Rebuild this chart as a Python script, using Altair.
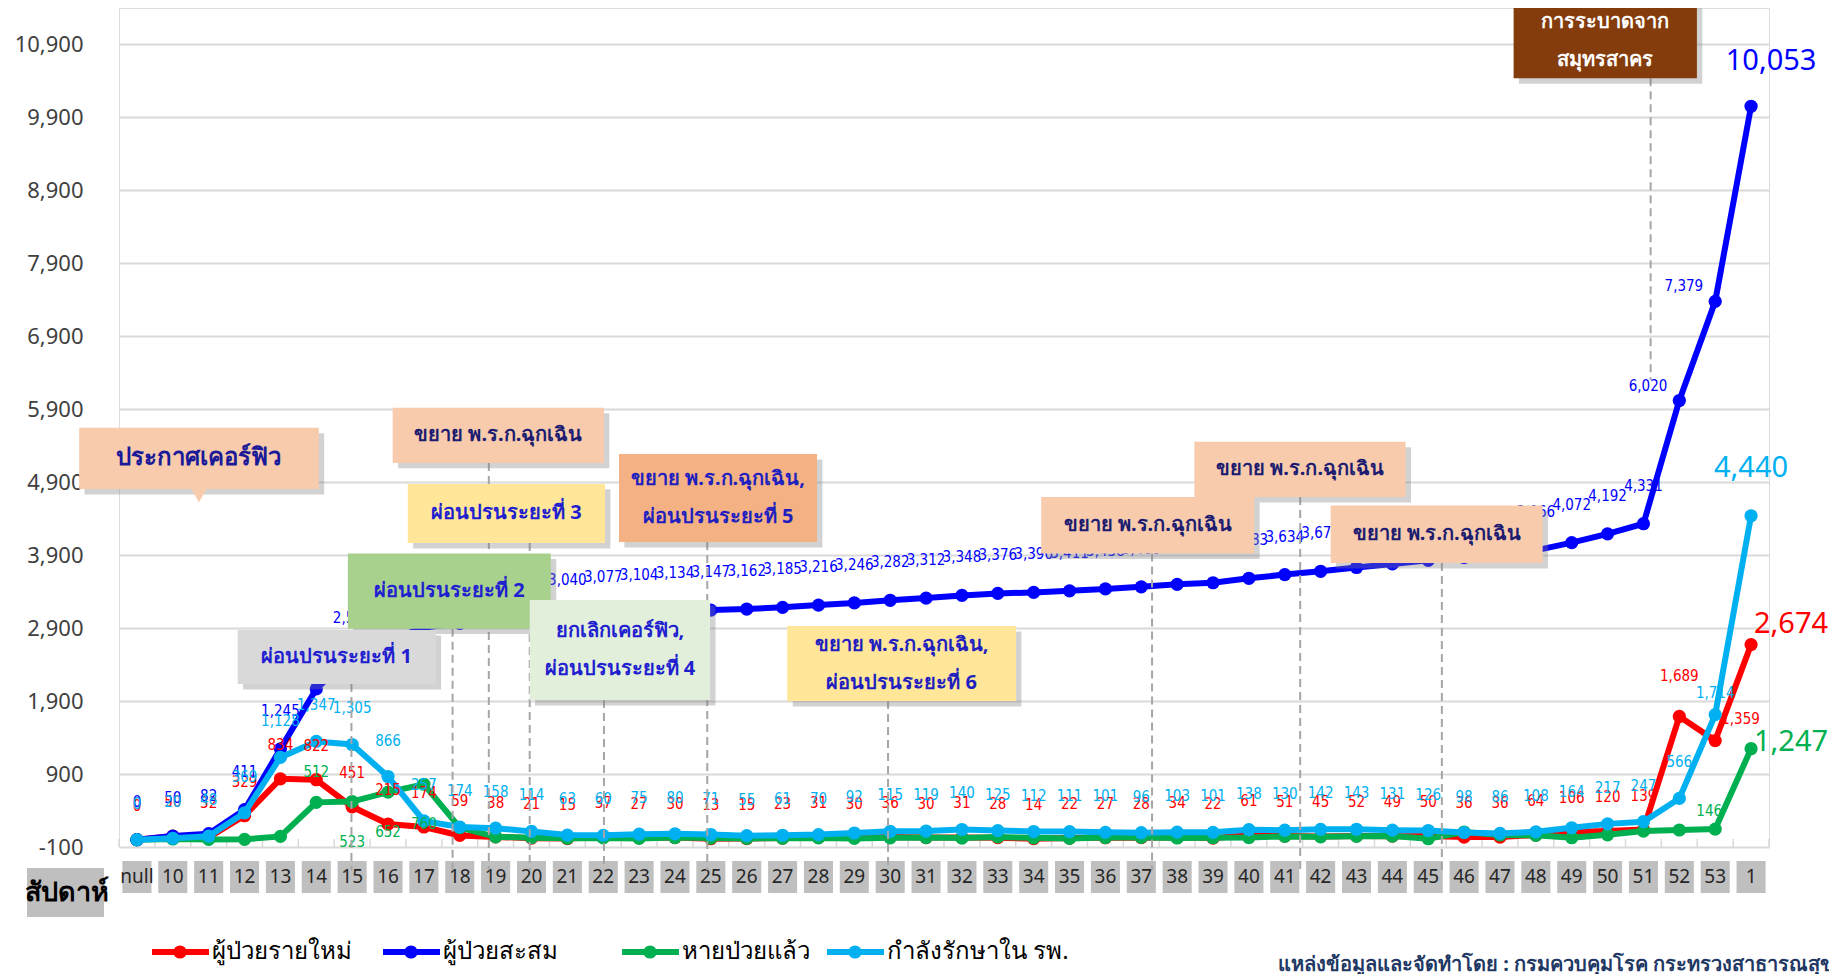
import altair as alt
import pandas as pd

# ---------------- data ----------------
weeks = ["null", "10", "11", "12", "13", "14", "15", "16", "17", "18", "19", "20",
         "21", "22", "23", "24", "25", "26", "27", "28", "29", "30", "31", "32",
         "33", "34", "35", "36", "37", "38", "39", "40", "41", "42", "43", "44",
         "45", "46", "47", "48", "49", "50", "51", "52", "53", "1"]

new_cases = [0, 50, 32, 329, 834, 822, 451, 215, 174, 59, 38, 21, 15, 37, 27, 30,
             13, 15, 23, 31, 30, 36, 30, 31, 28, 14, 22, 27, 28, 34, 22, 61, 51, 45,
             52, 49, 50, 36, 36, 64, 106, 120, 139, 1689, 1359, 2674]

cumulative = [0, 50, 82, 411, 1245, 2067, 2518, 2733, 2907, 2966, 3004, 3025, 3040,
              3077, 3104, 3134, 3147, 3162, 3185, 3216, 3246, 3282, 3312, 3348, 3376,
              3390, 3411, 3438, 3466, 3500, 3522, 3583, 3634, 3679, 3731, 3780, 3830,
              3866, 3902, 3966, 4072, 4192, 4331, 6020, 7379, 10053]

recovered = [0, 10, 4, 5, 45, 512, 523, 652, 760, 165, 40, 28, 20, 25, 18, 30, 22,
             18, 20, 25, 18, 26, 30, 23, 38, 26, 18, 30, 31, 24, 27, 30, 45, 39, 47,
             50, 13, 105, 65, 60, 27, 67, 119, 133, 146, 1247]

in_hospital = [0, 20, 48, 369, 1128, 1347, 1305, 866, 257, 174, 158, 114, 63, 60, 75,
               80, 71, 55, 61, 70, 92, 115, 119, 140, 125, 112, 111, 101, 96, 103, 101,
               138, 130, 142, 143, 131, 126, 98, 86, 108, 164, 217, 247, 566, 1714, 4440]

series_keys = ["new", "cum", "rec", "hosp"]
series_names = ["ผู้ป่วยรายใหม่", "ผู้ป่วยสะสม", "หายป่วยแล้ว", "กำลังรักษาใน รพ."]
series_colors = ["#ff0000", "#0000ff", "#00b050", "#00b0f0"]
series_values = [new_cases, cumulative, recovered, in_hospital]

y_ticks = [-100, 900, 1900, 2900, 3900, 4900, 5900, 6900, 7900, 8900, 9900, 10900]

rows = []
for key, vals in zip(series_keys, series_values):
    for i, (w, v) in enumerate(zip(weeks, vals)):
        rows.append({"idx": i, "week": w, "series": key, "value": v})
df = pd.DataFrame(rows)
wk = pd.DataFrame({"idx": list(range(len(weeks))), "week": weeks})

# annotation boxes (x in week-index units, y in case units)
annotations = [
    dict(x1=-1.61, x2=5.07, y1=4808, y2=5645, fill="#f8cbad", tc="#1a1a99", fs=24, lines=["ประกาศเคอร์ฟิว"]),
    dict(x1=7.13, x2=13.02, y1=5165, y2=5919, fill="#f8cbad", tc="#1c1c70", fs=20, lines=["ขยาย พ.ร.ก.ฉุกเฉิน"]),
    dict(x1=7.55, x2=13.05, y1=4067, y2=4877, fill="#ffe699", tc="#1f1fd0", fs=20, lines=["ผ่อนปรนระยะที่ 3"]),
    dict(x1=13.44, x2=18.96, y1=4081, y2=5288, fill="#f4b183", tc="#1f1fc0", fs=20, lines=["ขยาย พ.ร.ก.ฉุกเฉิน,", "ผ่อนปรนระยะที่ 5"]),
    dict(x1=5.88, x2=11.54, y1=2893, y2=3922, fill="#a9d18e", tc="#1f1fd0", fs=20, lines=["ผ่อนปรนระยะที่ 2"]),
    dict(x1=2.81, x2=8.33, y1=2133, y2=2874, fill="#d9d9d9", tc="#1f1fd0", fs=20, lines=["ผ่อนปรนระยะที่ 1"]),
    dict(x1=10.95, x2=15.98, y1=1914, y2=3285, fill="#e2efda", tc="#1f1fd0", fs=20, lines=["ยกเลิกเคอร์ฟิว,", "ผ่อนปรนระยะที่ 4"]),
    dict(x1=18.13, x2=24.51, y1=1900, y2=2929, fill="#ffe699", tc="#1f1fc0", fs=20, lines=["ขยาย พ.ร.ก.ฉุกเฉิน,", "ผ่อนปรนระยะที่ 6"]),
    dict(x1=25.21, x2=31.15, y1=3922, y2=4698, fill="#f8cbad", tc="#1c1c70", fs=20, lines=["ขยาย พ.ร.ก.ฉุกเฉิน"]),
    dict(x1=29.48, x2=35.37, y1=4698, y2=5453, fill="#f8cbad", tc="#1c1c70", fs=20, lines=["ขยาย พ.ร.ก.ฉุกเฉิน"]),
    dict(x1=33.28, x2=39.19, y1=3793, y2=4582, fill="#f8cbad", tc="#1c1c70", fs=20, lines=["ขยาย พ.ร.ก.ฉุกเฉิน"]),
    dict(x1=38.38, x2=43.49, y1=10437, y2=11470, fill="#843c0c", tc="#ffffff", fs=20, lines=["การระบาดจาก", "สมุทรสาคร"]),
]
ann = pd.DataFrame(annotations)
ann["nl"] = ann["lines"].apply(len)
ann["xc"] = (ann.x1 + ann.x2) / 2
ann["yc"] = (ann.y1 + ann.y2) / 2
ann["sx1"] = ann.x1 + 0.15
ann["sx2"] = ann.x2 + 0.15
ann["sy1"] = ann.y1 - 75
ann["sy2"] = ann.y2 - 75

dashes = pd.DataFrame({
    "x": [5.98, 8.8, 9.81, 10.95, 13.02, 15.9, 20.94, 28.3, 32.43, 36.38, 42.2],
    "top": [2133, 2893, 5165, 4067, 1914, 4081, 1900, 3922, 4698, 3793, 10437],
    "bottom": [-420, -420, -420, -420, -420, -420, -420, -420, -420, -420, 6300],
})

# ---------------- chart ----------------
W, H = 1650, 839
FONT = "Noto Sans"
LFONT = "DejaVu Sans Condensed, Noto Sans, sans-serif"
xscale = alt.Scale(domain=[-0.5, 45.5], nice=False, zero=False)
yscale = alt.Scale(domain=[-100, 11400], nice=False, zero=False)
yaxis = alt.Axis(values=y_ticks, format=",d", grid=True, gridColor="#d9d9d9", gridWidth=2,
                 domain=False, ticks=False, labelFontSize=22, labelColor="#404040",
                 labelPadding=36, title=None, labelFont=FONT,
                 labelExpr="replace(datum.label, '\u2212', '-')")


def X(f):
    return alt.X(f, type="quantitative", scale=xscale, axis=None)


def Y(f):
    return alt.Y(f, type="quantitative", scale=yscale, axis=yaxis)


layers = []
base = alt.Chart(df)
color_of = dict(zip(series_keys, series_colors))

# boundary ticks on the x axis
bnd = pd.DataFrame({"b": [i - 0.5 for i in range(len(weeks) + 1)]})
layers.append(alt.Chart(bnd).mark_rule(color="#d9d9d9", strokeWidth=1.5).encode(
    x=X("b"), y=alt.value(H), y2=alt.value(H - 8)))

# lines and points (draw order: red, green, blue, cyan)
for key in ["new", "rec", "cum", "hosp"]:
    c = color_of[key]
    sub = base.transform_filter(f"datum.series == '{key}'")
    layers.append(sub.mark_line(color=c, strokeWidth=6).encode(x=X("idx"), y=Y("value")))
    layers.append(sub.mark_circle(color=c, size=175, opacity=1).encode(x=X("idx"), y=Y("value")))


def lab(key, filt, size=15, font=LFONT, **kw):
    return base.transform_filter(f"datum.series == '{key}' && ({filt})").mark_text(
        color=color_of[key], font=font, fontSize=size, baseline="middle", **kw
    ).encode(x=X("idx"), y=Y("value"), text=alt.Text("value:Q", format=",d"))


label_layers = [
    lab("new", "datum.idx <= 42", dy=-34),
    lab("new", "datum.idx == 43", dy=-40),
    lab("new", "datum.idx == 44", align="left", dx=6, dy=-22),
    lab("cum", "datum.idx <= 42", dy=-38),
    lab("cum", "datum.idx == 43 || datum.idx == 44", align="right", dx=-12, dy=-15),
    lab("rec", "datum.idx <= 43 && datum.idx != 5", dy=40),
    lab("rec", "datum.idx == 5", dy=-30),
    lab("rec", "datum.idx == 44", dx=-6, dy=-18),
    lab("hosp", "datum.idx <= 43", dy=-36),
    lab("hosp", "datum.idx == 44", dy=-22),
    lab("new", "datum.idx == 45", size=29, font=FONT, dx=40, dy=-21),
    lab("cum", "datum.idx == 45", size=29, font=FONT, dx=20, dy=-45),
    lab("rec", "datum.idx == 45", size=29, font=FONT, dx=40, dy=-7),
    lab("hosp", "datum.idx == 45", size=29, font=FONT, dx=0, dy=-48),
]
layers += label_layers

# x-axis category boxes and labels
wkc = alt.Chart(wk).transform_calculate(lo="datum.idx - 0.405", hi="datum.idx + 0.405")
layers.append(wkc.mark_rect(color="#bfbfbf").encode(
    x=X("lo"), x2="hi:Q", y=alt.value(H + 14), y2=alt.value(H + 46)))
layers.append(alt.Chart(wk).mark_text(fontSize=19, color="#262626", font=FONT, baseline="middle").encode(
    x=X("idx"), y=alt.value(H + 30), text="week:N"))

# axis title box
layers.append(alt.Chart(pd.DataFrame({"t": ["สัปดาห์"]})).mark_rect(color="#bfbfbf").encode(
    x=alt.value(-92), x2=alt.value(-15), y=alt.value(H + 21), y2=alt.value(H + 70)))
layers.append(alt.Chart(pd.DataFrame({"t": ["สัปดาห์"]})).mark_text(
    fontSize=27, fontWeight="bold", color="#000000", font=FONT, baseline="middle").encode(
    x=alt.value(-52), y=alt.value(H + 46), text="t:N"))

# dashed guide lines
layers.append(alt.Chart(dashes).mark_rule(color="#a6a6a6", strokeWidth=2, strokeDash=[8, 5]).encode(
    x=X("x"), y=Y("top"), y2="bottom:Q"))

# annotation boxes: shadow, box, pointer, text
layers.append(alt.Chart(ann).mark_rect(color="#7f7f7f", opacity=0.35).encode(
    x=X("sx1"), x2="sx2:Q", y=Y("sy1"), y2="sy2:Q"))
layers.append(alt.Chart(ann).mark_rect().encode(
    x=X("x1"), x2="x2:Q", y=Y("y1"), y2="y2:Q", color=alt.Color("fill:N", scale=None)))
ptr = pd.DataFrame({"x": [1.73], "y": [4720]})
layers.append(alt.Chart(ptr).mark_point(shape="triangle-down", filled=True, size=260,
                                        color="#f8cbad", opacity=1).encode(x=X("x"), y=Y("y")))
for nl, dy in [(1, 0), (2, -19)]:
    layers.append(alt.Chart(ann).transform_filter(f"datum.nl == {nl}").mark_text(
        fontWeight="bold", font=FONT, baseline="middle", lineHeight=38, dy=dy).encode(
        x=X("xc"), y=Y("yc"), text="lines", color=alt.Color("tc:N", scale=None),
        size=alt.Size("fs:Q", scale=None)))

# legend
leg_x = [33, 264, 503, 708]
for name, c, lx in zip(series_names, series_colors, leg_x):
    d = pd.DataFrame({"t": [name]})
    layers.append(alt.Chart(d).mark_rule(color=c, strokeWidth=6).encode(
        x=alt.value(lx), x2=alt.value(lx + 57), y=alt.value(944)))
    layers.append(alt.Chart(d).mark_circle(color=c, size=175, opacity=1).encode(
        x=alt.value(lx + 28), y=alt.value(944)))
    layers.append(alt.Chart(d).mark_text(align="left", baseline="middle", fontSize=24,
                                         color="#000000", font=FONT).encode(
        x=alt.value(lx + 60), y=alt.value(944), text="t:N"))

# source note
src = pd.DataFrame({"t": ["แหล่งข้อมูลและจัดทำโดย : กรมควบคุมโรค กระทรวงสาธารณสุข"]})
layers.append(alt.Chart(src).mark_text(align="left", baseline="middle", fontSize=20, fontWeight="bold",
                                       color="#1f3864", font=FONT).encode(
    x=alt.value(1159), y=alt.value(957), text="t:N"))

chart = alt.layer(*layers).properties(
    width=W, height=H,
    autosize=alt.AutoSizeParams(type="none"),
    padding={"left": 111, "top": 0, "right": 60, "bottom": 127},
    background="white",
).configure_view(stroke=None).configure(font=FONT)

chart.save("out.html", embed_options={"renderer": "svg", "actions": False})
